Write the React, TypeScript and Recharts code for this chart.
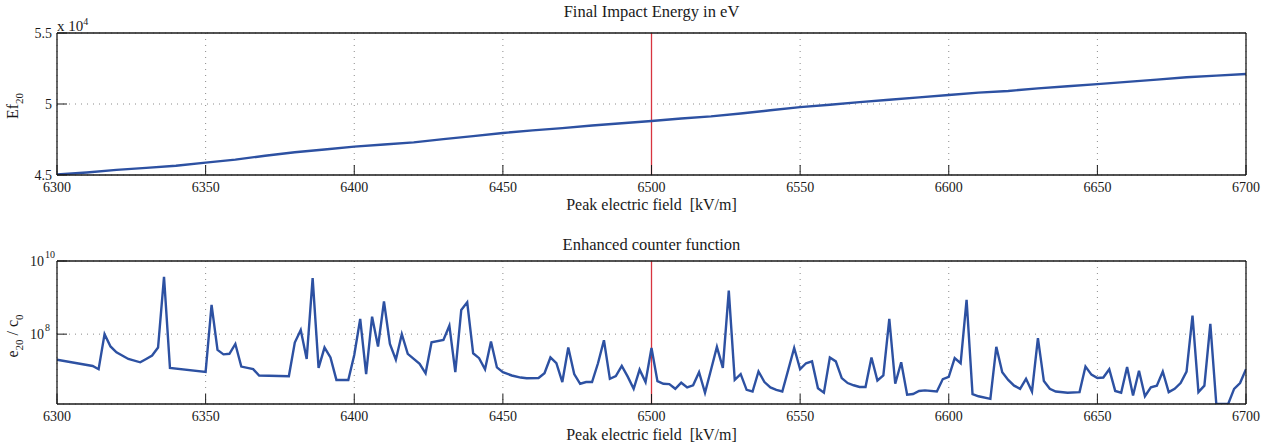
import React from 'react';
import { LineChart, Line, XAxis, YAxis, CartesianGrid, ReferenceLine } from 'recharts';

const FIELD_TICKS = [6300, 6350, 6400, 6450, 6500, 6550, 6600, 6650, 6700];
const MARKER_FIELD = 6500;

const ENERGY_FIELD = [
  6300, 6310, 6320, 6330, 6340, 6350, 6360, 6370, 6380, 6390,
  6400, 6410, 6420, 6430, 6440, 6450, 6460, 6470, 6480, 6490,
  6500, 6510, 6520, 6530, 6540, 6550, 6560, 6570, 6580, 6590,
  6600, 6610, 6620, 6630, 6640, 6650, 6660, 6670, 6680, 6690, 6700,
];
const ENERGY_VALUES = [
  45030, 45180, 45360, 45500, 45650, 45870, 46080, 46360, 46600, 46800,
  47000, 47150, 47300, 47530, 47740, 47960, 48140, 48300, 48490, 48640,
  48800, 48980, 49130, 49330, 49560, 49780, 49950, 50130, 50300, 50470,
  50630, 50800, 50920, 51100, 51250, 51400, 51560, 51720, 51880, 52000, 52110,
];
const ENERGY_TICKS = [45000, 50000, 55000];

const COUNTER_FIELD = [
  6300, 6312, 6314, 6316, 6318, 6320, 6324, 6328, 6330, 6332,
  6334, 6336, 6338, 6350, 6352, 6354, 6356, 6358, 6360, 6362,
  6366, 6368, 6378, 6380, 6382, 6384, 6386, 6388, 6390, 6392,
  6394, 6398, 6400, 6402, 6404, 6406, 6408, 6410, 6412, 6414,
  6416, 6418, 6422, 6424, 6426, 6430, 6432, 6434, 6436, 6438,
  6440, 6442, 6444, 6446, 6448, 6450, 6453, 6456, 6458, 6462,
  6464, 6466, 6468, 6470, 6472, 6474, 6476, 6478, 6480, 6482,
  6484, 6486, 6488, 6490, 6492, 6494, 6496, 6498, 6500, 6502,
  6504, 6506, 6508, 6510, 6512, 6514, 6516, 6518, 6520, 6522,
  6524, 6526, 6528, 6530, 6532, 6534, 6536, 6538, 6540, 6542,
  6544, 6546, 6548, 6550, 6552, 6554, 6556, 6558, 6560, 6562,
  6564, 6566, 6568, 6570, 6572, 6574, 6576, 6578, 6580, 6582,
  6584, 6586, 6588, 6590, 6592, 6596, 6598, 6600, 6602, 6604,
  6606, 6608, 6610, 6614, 6616, 6618, 6620, 6622, 6624, 6626,
  6628, 6630, 6632, 6634, 6636, 6640, 6644, 6646, 6648, 6650,
  6652, 6654, 6656, 6658, 6660, 6662, 6664, 6666, 6668, 6670,
  6672, 6674, 6676, 6678, 6680, 6682, 6684, 6686, 6688, 6690,
  6694, 6696, 6698, 6700,
];
const COUNTER_VALUES = [
  2.0e7, 1.35e7, 1.1e7, 1.0e8, 4.6e7, 3.2e7, 2.1e7, 1.7e7, 2.1e7, 2.6e7,
  4.3e7, 3.7e9, 1.2e7, 9.3e6, 6.3e8, 3.7e7, 2.8e7, 2.9e7, 5.4e7, 1.3e7,
  1.1e7, 7.4e6, 7.1e6, 5.9e7, 1.3e8, 2.1e7, 3.4e9, 1.2e7, 4.3e7, 2.3e7,
  5.6e6, 5.6e6, 2.7e7, 2.6e8, 8.1e6, 3.0e8, 4.6e7, 7.8e8, 5.4e7, 2.0e7,
  1.0e8, 2.9e7, 1.55e7, 8.5e6, 6.0e7, 6.9e7, 1.7e8, 9.1e6, 4.6e8, 7.4e8,
  3.0e7, 2.2e7, 1.1e7, 6.3e7, 1.23e7, 9.1e6, 7.4e6, 6.5e6, 6.2e6, 6.3e6,
  8.5e6, 2.3e7, 1.6e7, 4.9e6, 4.3e7, 8.1e6, 4.4e6, 4.9e6, 4.9e6, 1.6e7,
  6.8e7, 6.0e6, 7.1e6, 1.35e7, 6.9e6, 3.2e6, 1.07e7, 4.9e6, 4.2e7, 5.2e6,
  4.4e6, 4.3e6, 3.2e6, 4.7e6, 3.5e6, 4.0e6, 9.1e6, 2.5e6, 1.05e7, 4.5e7,
  1.2e7, 1.55e9, 5.6e6, 8.1e6, 3.0e6, 2.7e6, 9.5e6, 4.9e6, 3.5e6, 3.0e6,
  2.7e6, 1.05e7, 4.2e7, 1.1e7, 1.6e7, 1.8e7, 3.3e6, 2.5e6, 2.3e7, 1.8e7,
  6.3e6, 4.6e6, 4.0e6, 3.6e6, 3.6e6, 2.3e7, 5.4e6, 7.4e6, 2.6e8, 4.4e6,
  1.7e7, 2.2e6, 2.3e6, 2.8e6, 2.9e6, 2.7e6, 5.9e6, 6.8e6, 2.2e7, 1.6e7,
  8.7e8, 2.3e6, 2.0e6, 1.7e6, 4.5e7, 9.1e6, 5.6e6, 3.9e6, 3.2e6, 6.0e6,
  2.7e6, 7.8e7, 5.2e6, 3.2e6, 2.7e6, 2.5e6, 2.6e6, 1.3e7, 7.8e6, 6.3e6,
  6.5e6, 1.1e7, 2.8e6, 2.5e6, 1.26e7, 2.1e6, 1.0e7, 2.0e6, 3.5e6, 3.9e6,
  9.5e6, 2.6e6, 3.2e6, 4.6e6, 9.5e6, 3.2e8, 2.6e6, 3.9e6, 1.9e8, 1.25e6,
  1.23e6, 3.2e6, 4.6e6, 1.1e7,
];
const COUNTER_TICKS = [1e8, 1e10];
const COUNTER_DOMAIN = [1.23e6, 1e10];

const energyData = ENERGY_FIELD.map((x, i) => ({ x, y: ENERGY_VALUES[i] }));
const counterData = COUNTER_FIELD.map((x, i) => ({ x, y: COUNTER_VALUES[i] }));

const FONT = '"Liberation Serif", "Times New Roman", serif';
const INK = '#1a1a1a';
const LINE_COLOR = '#2d51a2';
const GRID_COLOR = '#8a8a8a';
const RED = '#d8343f';

function LogTick(props: any) {
  const { x, y, payload } = props;
  const exp = Math.round(Math.log10(payload.value));
  return (
    <g>
      <text x={x} y={y} dy="0.36em" textAnchor="end" fontSize={14} fill={INK} fontFamily={FONT}>10</text>
      <text x={x + 1} y={y - 7} dy="0.36em" textAnchor="start" fontSize={10} fill={INK} fontFamily={FONT}>{exp}</text>
    </g>
  );
}

const tickStyle = { fontSize: 14, fill: INK, fontFamily: FONT };
const axisLine = { stroke: INK, strokeWidth: 1.3 };
const tickLine = { stroke: INK, strokeWidth: 1 };
const xLabelStyle = { fontSize: 16, fill: INK, fontFamily: FONT };

const titleStyle: React.CSSProperties = {
  position: 'absolute', left: 57, width: 1189, textAlign: 'center',
  fontFamily: FONT, fontSize: 16.5, lineHeight: '18px', color: INK,
};
const yLabelStyle: React.CSSProperties = {
  position: 'absolute', fontFamily: FONT, fontSize: 16, color: INK, whiteSpace: 'nowrap',
  transform: 'translate(-50%, -50%) rotate(-90deg)', lineHeight: '18px',
};

export default function App() {
  return (
    <div style={{ position: 'absolute', left: 0, top: 0, width: 1271, height: 443, background: '#fff', fontFamily: FONT }}>
      <div style={{ position: 'absolute', left: 0, top: 0 }}>
        <LineChart width={1271} height={220} data={energyData} margin={{ top: 23, right: 0, bottom: 0, left: 0 }}>
          <CartesianGrid stroke={GRID_COLOR} strokeDasharray="1 5" />
          <XAxis dataKey="x" type="number" domain={[6300, 6700]} ticks={FIELD_TICKS} allowDataOverflow
            height={45} tickSize={-10} tickMargin={17} tick={tickStyle} axisLine={axisLine} tickLine={tickLine}
            label={{ value: 'Peak electric field\u00a0\u00a0[kV/m]', position: 'insideBottom', offset: 10, style: xLabelStyle }} />
          <XAxis xAxisId="t" orientation="top" type="number" domain={[6300, 6700]} ticks={FIELD_TICKS} allowDataOverflow
            height={10} tickSize={-10} tick={false} axisLine={axisLine} tickLine={tickLine} />
          <YAxis type="number" domain={[45000, 55000]} ticks={ENERGY_TICKS} allowDataOverflow width={57}
            tickSize={-10} tickMargin={15} tick={tickStyle} axisLine={axisLine} tickLine={tickLine}
            tickFormatter={(v: number) => String(v / 10000)} />
          <YAxis yAxisId="r" orientation="right" type="number" domain={[45000, 55000]} ticks={ENERGY_TICKS} allowDataOverflow width={25}
            tickSize={-10} tick={false} axisLine={axisLine} tickLine={tickLine} />
          <ReferenceLine x={MARKER_FIELD} stroke={RED} strokeWidth={1.3} />
          <Line dataKey="y" type="linear" stroke={LINE_COLOR} strokeWidth={2.4} dot={false} isAnimationActive={false} />
        </LineChart>
      </div>
      <div style={{ position: 'absolute', left: 0, top: 230 }}>
        <LineChart width={1271} height={213} data={counterData} margin={{ top: 21, right: 0, bottom: 0, left: 0 }}>
          <CartesianGrid stroke={GRID_COLOR} strokeDasharray="1 5" />
          <XAxis dataKey="x" type="number" domain={[6300, 6700]} ticks={FIELD_TICKS} allowDataOverflow
            height={39} tickSize={-10} tickMargin={17} tick={tickStyle} axisLine={axisLine} tickLine={tickLine}
            label={{ value: 'Peak electric field\u00a0\u00a0[kV/m]', position: 'insideBottom', offset: 3, style: xLabelStyle }} />
          <XAxis xAxisId="t" orientation="top" type="number" domain={[6300, 6700]} ticks={FIELD_TICKS} allowDataOverflow
            height={10} tickSize={-10} tick={false} axisLine={axisLine} tickLine={tickLine} />
          <YAxis type="number" scale="log" domain={COUNTER_DOMAIN} ticks={COUNTER_TICKS} allowDataOverflow width={57}
            tickSize={-10} tickMargin={23} tick={<LogTick />} axisLine={axisLine} tickLine={tickLine} />
          <YAxis yAxisId="r" orientation="right" type="number" scale="log" domain={COUNTER_DOMAIN} ticks={COUNTER_TICKS} allowDataOverflow width={25}
            tickSize={-10} tick={false} axisLine={axisLine} tickLine={tickLine} />
          <ReferenceLine x={MARKER_FIELD} stroke={RED} strokeWidth={1.3} />
          <Line dataKey="y" type="linear" stroke={LINE_COLOR} strokeWidth={2.4} dot={false} isAnimationActive={false} />
        </LineChart>
      </div>

      <div style={{ ...titleStyle, top: 3 }}>Final Impact Energy in eV</div>
      <div style={{ ...titleStyle, top: 236 }}>Enhanced counter function</div>

      <div style={{ position: 'absolute', left: 57, top: 13, fontFamily: FONT, fontSize: 15, lineHeight: '18px', color: INK, whiteSpace: 'nowrap' }}>
        x 10<sup style={{ fontSize: 10 }}>4</sup>
      </div>

      <div style={{ ...yLabelStyle, left: 16, top: 106 }}>
        Ef<sub style={{ fontSize: 11 }}>20</sub>
      </div>
      <div style={{ ...yLabelStyle, left: 16, top: 336 }}>
        e<sub style={{ fontSize: 11 }}>20</sub> / c<sub style={{ fontSize: 11 }}>0</sub>
      </div>
    </div>
  );
}
